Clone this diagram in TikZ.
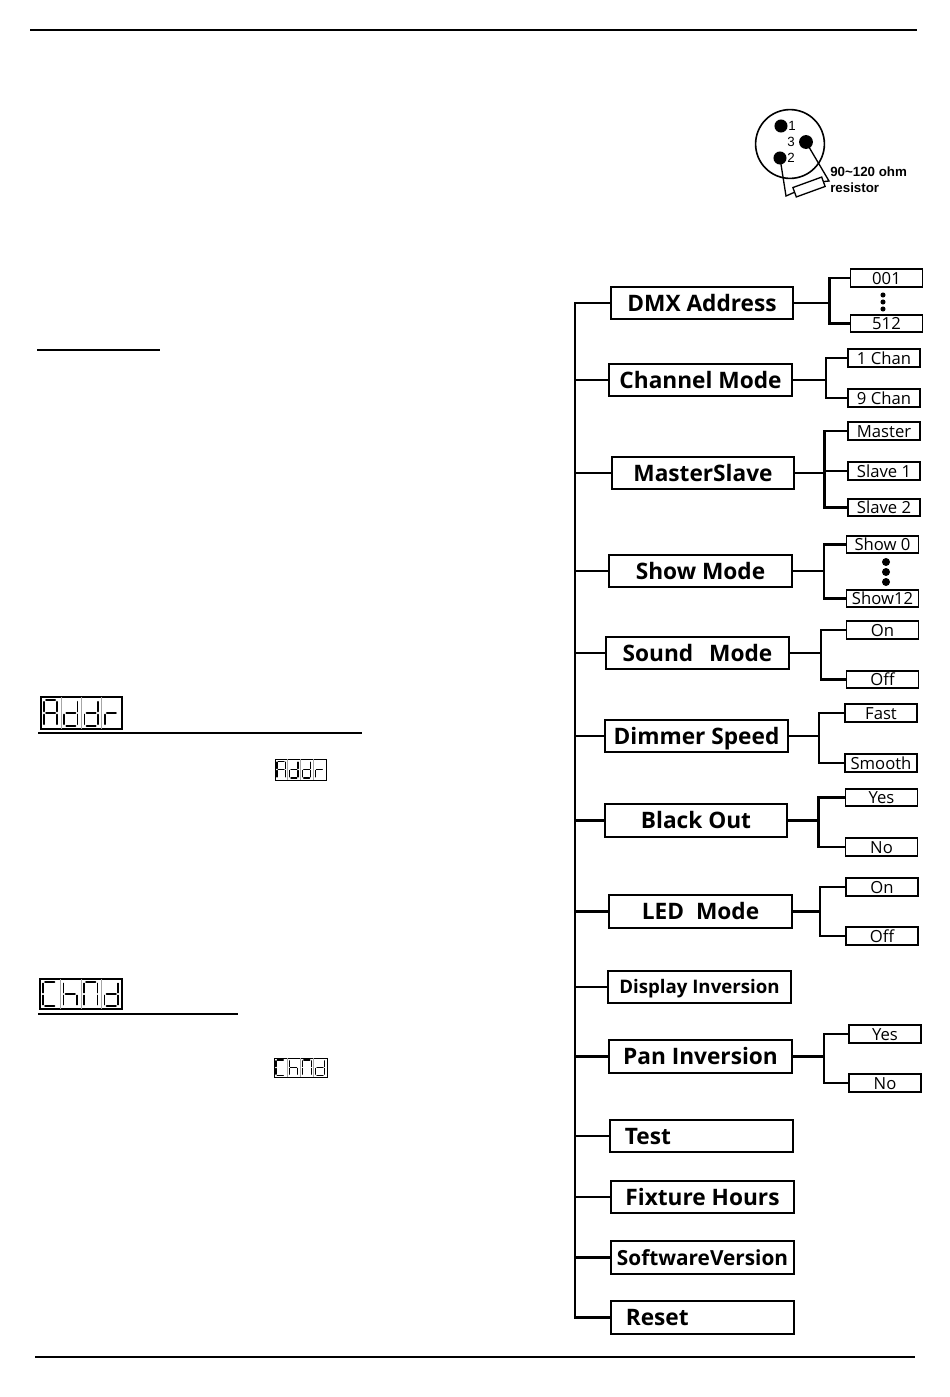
\documentclass[tikz,border=0pt]{standalone}
\usepackage{fontspec}
\setmainfont{Open Sans}
\newfontfamily\pinfont{Liberation Sans}

\tikzset{
  menubox/.style={draw, line width=1.5pt, minimum width=137pt, minimum height=24.5pt,
    inner sep=2pt, text height=12.2pt, text depth=0pt,
    font=\bfseries\fontsize{17}{17}\selectfont},
  optbox/.style={draw, line width=1.3pt, minimum width=54pt, minimum height=13pt,
    inner sep=0pt, text height=9pt, text depth=0pt,
    font=\fontsize{12.5}{12.5}\selectfont},
  leftbox/.style={text width=115pt, align=left},
  branch/.style={line width=2pt},
  lcdseg/.style={line width=1.3pt, line cap=round},
  lcdframe/.style={line width=0.8pt},
  lcdcell/.style={line width=0.4pt, black!35},
  pinlabel/.style={inner sep=0pt, font=\pinfont\fontsize{10}{10}\selectfont},
  ohmlabel/.style={anchor=west, inner sep=0pt, font=\pinfont\bfseries\fontsize{10}{10}\selectfont},
}

% one seven segment digit: segments 1..7 = a..g
\newcommand{\lcdchar}[4]{%
  \begin{scope}[shift={#1},xscale=#2,yscale=#3]
    \foreach \s in {#4}{\ifcase\s\or
      \draw[lcdseg] (0.15,0) -- (0.85,0);\or
      \draw[lcdseg] (1,0.12) -- (1,0.88);\or
      \draw[lcdseg] (1,1.12) -- (1,1.88);\or
      \draw[lcdseg] (0.15,2) -- (0.85,2);\or
      \draw[lcdseg] (0,1.12) -- (0,1.88);\or
      \draw[lcdseg] (0,0.12) -- (0,0.88);\or
      \draw[lcdseg] (0.15,1) -- (0.85,1);\fi}
  \end{scope}}

% four digit display: corner, cell width, height, segments
\newcommand{\lcdword}[8]{%
  \draw[lcdframe] (#1,#2) rectangle ++(4*#3,#4);
  \foreach \k in {1,2,3} \draw[lcdcell] (#1+\k*#3,#2) -- ++(0,#4);
  \lcdchar{(#1+0.15*#3,#2+0.1*#4)}{0.65*#3}{0.4*#4}{#5}
  \lcdchar{(#1+1.15*#3,#2+0.1*#4)}{0.65*#3}{0.4*#4}{#6}
  \lcdchar{(#1+2.15*#3,#2+0.1*#4)}{0.65*#3}{0.4*#4}{#7}
  \lcdchar{(#1+3.15*#3,#2+0.1*#4)}{0.65*#3}{0.4*#4}{#8}}

\begin{document}
\begin{tikzpicture}[x=0.75pt, y=-0.75pt]
  \useasboundingbox (0,0) rectangle (950,1397);

  % page rules
  \draw[line width=1.1pt] (30,30) -- (917,30);
  \draw[line width=0.8pt] (35,1357) -- (915,1357);
  \draw[line width=1.3pt] (37,350) -- (160,350);
  \draw[line width=1.5pt] (38,733) -- (362,733);
  \draw[line width=1.5pt] (38,1014) -- (238,1014);

  % displays
  \lcdword{41}{697}{20.25}{32}{1,2,3,5,6,7}{2,3,4,5,7}{2,3,4,5,7}{5,7}
  \lcdword{40}{979}{20.5}{30}{1,4,5,6}{3,5,6,7}{1,2,3,5,6}{2,3,4,5,7}
  \begin{scope}[lcdseg/.style={line width=0.9pt, line cap=round}, lcdframe/.style={line width=0.6pt}]
    \lcdword{275}{759}{12.75}{21}{1,2,3,5,6,7}{2,3,4,5,7}{2,3,4,5,7}{5,7}
    \lcdword{274}{1058}{13.25}{19}{1,4,5,6}{3,5,6,7}{1,2,3,5,6}{2,3,4,5,7}
  \end{scope}

  % XLR plug with terminator
  \coordinate (pin1) at (781,126);
  \coordinate (pin2) at (780,158);
  \coordinate (pin3) at (806,142);
  \coordinate (lead2) at (786,196);
  \coordinate (lead3) at (829,181);
  \draw[line width=1.2pt] (790,144) circle (25.8pt);
  \node[draw, line width=1pt, rotate=20, minimum width=23pt, minimum height=7.5pt, inner sep=0pt] (res) at (809,187) {};
  \draw[line width=1pt] (pin2) -- (lead2) -- (res.west);
  \draw[line width=1pt] (pin3) -- (lead3) -- (res.east);
  \fill (pin1) circle (4.9pt);
  \fill (pin2) circle (4.9pt);
  \fill (pin3) circle (5.2pt);
  \node[pinlabel] (l1) at (792,126) {1};
  \node[pinlabel] (l3) at (791,142) {3};
  \node[pinlabel] (l2) at (791,158) {2};
  \node[ohmlabel] (ohm) at (830,172) {90\textasciitilde 120 ohm};
  \node[ohmlabel] (resword) at (830,188) {resistor};

  % main menu
  \node[menubox] (dmx) at (702,303) {DMX Address};
  \node[menubox] (chan) at (700.5,380) {Channel Mode};
  \node[menubox] (mast) at (703,473) {MasterSlave};
  \node[menubox] (show) at (700.5,571) {Show Mode};
  \node[menubox] (sound) at (697.5,653) {Sound\hspace{0.7em}Mode};
  \node[menubox] (dimm) at (696.5,736) {Dimmer Speed};
  \node[menubox] (black) at (696,820.5) {Black Out};
  \node[menubox] (led) at (700.5,911.5) {LED\hspace{0.53em}Mode};
  \node[menubox, text height=10pt, font=\bfseries\fontsize{14}{14}\selectfont] (disp) at (699.5,987) {Display Inversion};
  \node[menubox] (pan) at (700.5,1056.5) {Pan Inversion};
  \node[menubox, leftbox] (test) at (701.5,1136) {Test};
  \node[menubox] (fix) at (702.5,1197) {Fixture Hours};
  \node[menubox, text height=11.3pt, font=\bfseries\fontsize{15.6}{15.6}\selectfont] (soft) at (702.5,1257.5) {SoftwareVersion};
  \node[menubox, leftbox] (reset) at (702.5,1317.5) {Reset};

  % options
  \node[optbox] (dmxlo) at (886.5,278) {001};
  \node[optbox] (dmxhi) at (886.5,323.5) {512};
  \node[optbox] (chan1) at (884,358) {1 Chan};
  \node[optbox] (chan9) at (884,398) {9 Chan};
  \node[optbox] (mastm) at (884,431) {Master};
  \node[optbox] (masts1) at (884,471) {Slave 1};
  \node[optbox] (masts2) at (884,507.5) {Slave 2};
  \node[optbox] (show0) at (882.5,544.5) {Show 0};
  \node[optbox] (show12) at (882.5,598.5) {Show12};
  \node[optbox] (soundon) at (882.5,630) {On};
  \node[optbox] (soundoff) at (882.5,679.5) {Off};
  \node[optbox] (dimfast) at (881,713) {Fast};
  \node[optbox] (dimsmooth) at (881,763) {Smooth};
  \node[optbox] (blackyes) at (881.5,797.5) {Yes};
  \node[optbox] (blackno) at (881.5,847) {No};
  \node[optbox] (ledon) at (882,887) {On};
  \node[optbox] (ledoff) at (882,936) {Off};
  \node[optbox] (panyes) at (885,1034) {Yes};
  \node[optbox] (panno) at (885,1083) {No};

  % dots
  \foreach \y in {295,302,309} \fill (883,\y) circle (1.9pt);
  \foreach \y in {562,572,582} \fill (886,\y) circle (3pt);

  % trunk
  \coordinate (trunk) at (575,302);
  \draw[branch] (dmx.west) -- (dmx.west -| trunk) -- (reset.west -| trunk) -- (reset.west);
  \foreach \m in {chan,mast,show,sound,dimm,black,led,disp,pan,test,fix,soft}
    \draw[branch] (\m.west) -- (\m.west -| trunk);

  % option branches
  \foreach \m/\d/\a/\b in {dmx/35/dmxlo/dmxhi, chan/33/chan1/chan9, show/31/show0/show12,
      sound/31/soundon/soundoff, dimm/30/dimfast/dimsmooth, black/30/blackyes/blackno,
      led/27/ledon/ledoff, pan/31/panyes/panno}{
    \draw[branch] (\m.east) -- ++(\d,0) coordinate (\m j);
    \draw[branch] (\m j) |- (\a.west);
    \draw[branch] (\m j) |- (\b.west);
  }
  \draw[branch] (mast.east) -- ++(29,0) coordinate (mastj);
  \foreach \o in {mastm,masts1,masts2}
    \draw[branch] (mastj) |- (\o.west);
\end{tikzpicture}
\end{document}
